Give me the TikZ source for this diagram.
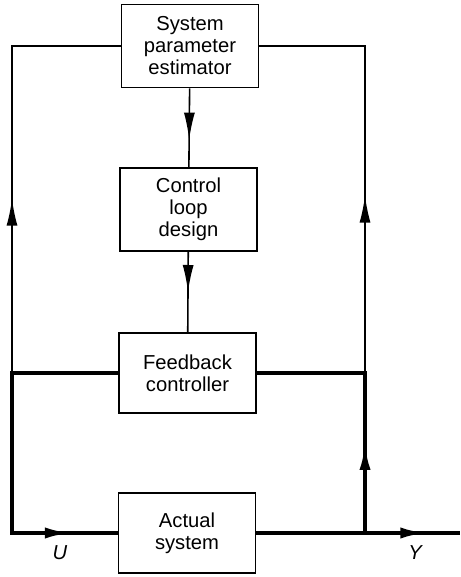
\documentclass[tikz,border=0pt]{standalone}
\usepackage{fontspec}
\setmainfont{Liberation Sans}
\usetikzlibrary{arrows.meta,decorations.markings}

\begin{document}
\begin{tikzpicture}[
        x=0.02cm, y=-0.02cm,
        block/.style={draw, line width=0.9pt, align=center, font=\fontsize{11.5}{12.5}\selectfont, minimum width=2.74cm, inner sep=0pt},
        signal/.style={line width=0.9pt},
        heavy/.style={line width=2.2pt},
        tip at/.style={postaction={decorate}, decoration={markings, mark=at position #1 with {\arrow{Latex[length=5.4mm,width=2.2mm]}}}}
    ]
        \useasboundingbox (0,0) rectangle (460,577);

        \node[block, minimum height=1.66cm] (est) at (190,46) {System\\parameter\\estimator};
        \node[block, minimum height=1.66cm] (design) at (188.5,209.5) {Control\\loop\\design};
        \node[block, minimum height=1.6cm] (ctrl) at (187.5,373) {Feedback\\controller};
        \node[block, minimum height=1.6cm] (plant) at (187,533) {Actual\\system};

        \coordinate (ut) at (12,46);
        \coordinate (uc) at (12,373);
        \coordinate (ub) at (12,533);
        \coordinate (yt) at (365,46);
        \coordinate (yc) at (365,373);
        \coordinate (yb) at (365,533);
        \coordinate (yout) at (460,533);

        \draw[signal, tip at=0.65] (est) -- (design);
        \draw[signal, tip at=0.5] (design) -- (ctrl);

        \draw[heavy, tip at=0.877] (ctrl.west) -- (uc) -- (ub) -- (plant.west);
        \draw[heavy, tip at=0.84] (plant.east) -- (yout);
        \draw[heavy, tip at=0.336] (yb) -- (yc) -- (ctrl.east);

        \draw[signal, tip at=0.40] (uc) -- (ut) -- (est.west);
        \draw[signal, tip at=0.41] (yc) -- (yt) -- (est.east);

        \node[font=\itshape\fontsize{11.5}{12}\selectfont] (lblU) at (60,553) {U};
        \node[font=\itshape\fontsize{11.5}{12}\selectfont] (lblY) at (415,553) {Y};
    \end{tikzpicture}
\end{document}
